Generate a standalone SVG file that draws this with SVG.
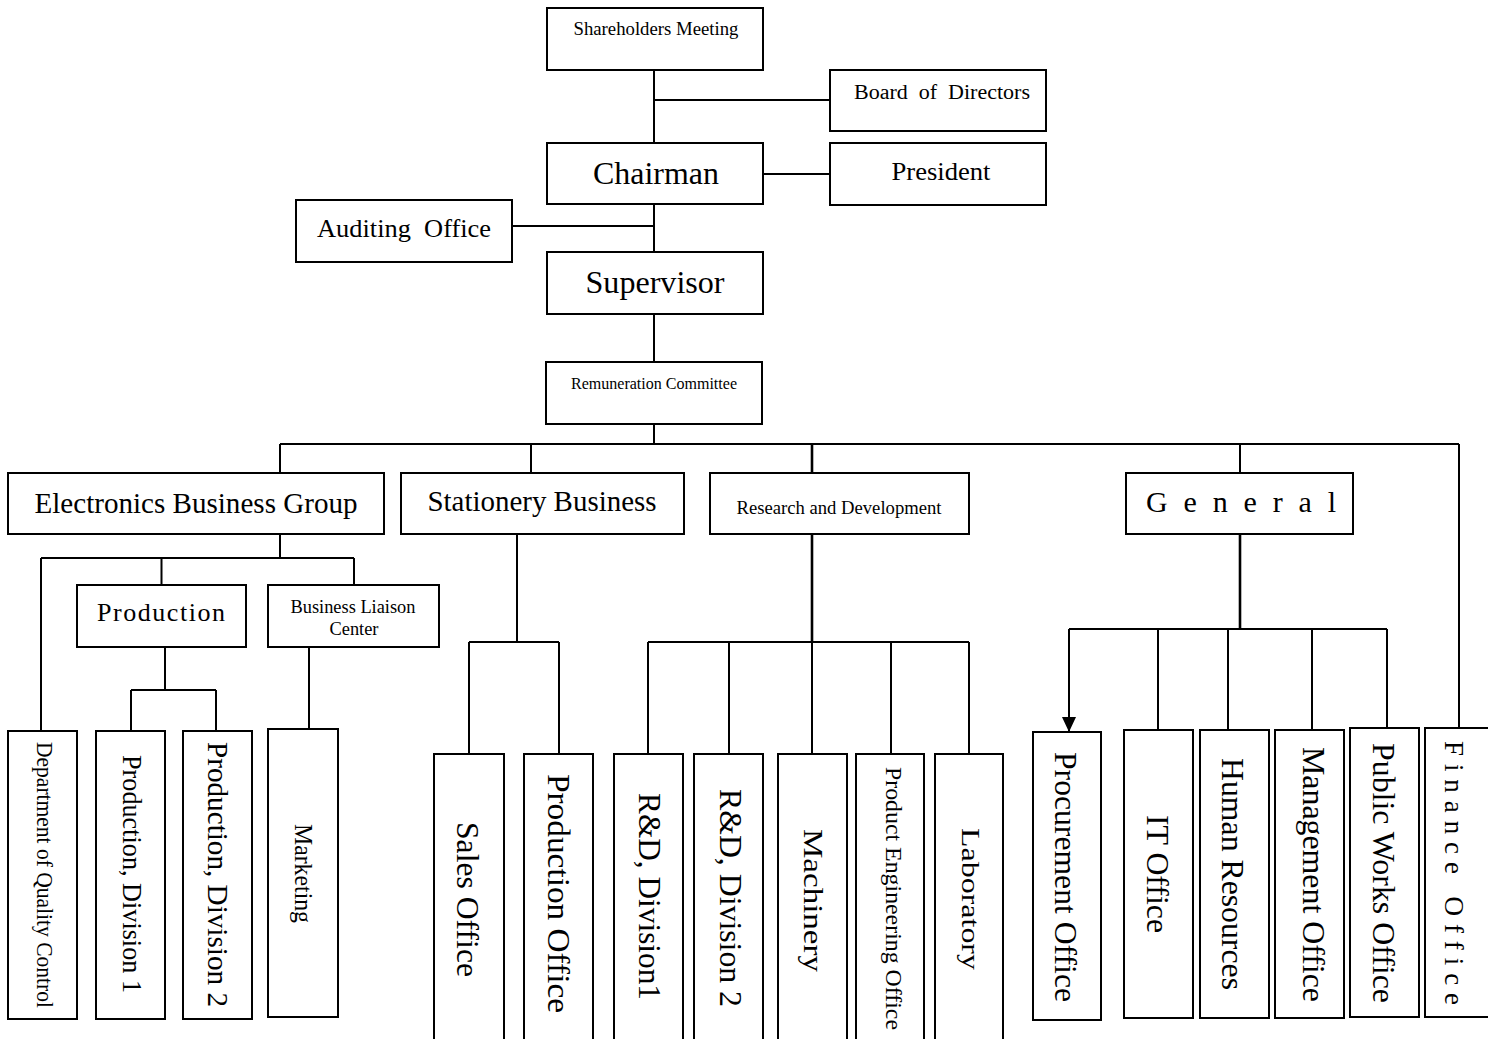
<svg xmlns="http://www.w3.org/2000/svg" width="1488" height="1039" viewBox="0 0 1488 1039">
  <style>
    .box { fill: #fff; stroke: #000; stroke-width: 2; }
    .ln { fill: none; stroke: #000; stroke-width: 2; }
    .thick { stroke-width: 2.6; }
    text { font-family: "Liberation Serif", "Times New Roman", serif; fill: #000; }
    .h { text-anchor: middle; }
  </style>
  <defs>
    <marker id="arrow" viewBox="0 0 15 14" refX="15" refY="7" markerWidth="15" markerHeight="14" markerUnits="userSpaceOnUse" orient="auto">
      <path d="M0,0 L15,7 L0,14 Z" fill="#000"/>
    </marker>
  </defs>
  <rect width="1488" height="1039" fill="#fff"/>

  <!-- connectors -->
  <g id="connectors">
    <!-- governance spine -->
    <path class="ln" d="M654,70 V143 M654,100 H830 M763,174 H830 M654,204 V252 M512,226 H654 M654,314 V362 M654,424 V444"/>
    <!-- main distribution bar -->
    <path class="ln" d="M280,444 H1459 M280,444 V473 M531,444 V473 M1240,444 V473 M1459,444 V728"/>
    <path class="ln thick" d="M812,444 V473"/>
    <!-- electronics branch -->
    <path class="ln" d="M280,534 V558 M41,558 H354 M41,558 V731 M161.5,558 V585 M354,558 V585"/>
    <path class="ln" d="M165,647 V690 M131,690 H216 M131,690 V731 M216,690 V731 M309,647 V729"/>
    <!-- stationery branch -->
    <path class="ln" d="M514,522 H520"/>
    <path class="ln" d="M517,529 V642 M469,642 H559 M469,642 V754 M559,642 V754"/>
    <!-- research branch -->
    <path class="ln thick" d="M812,534 V642"/>
    <path class="ln" d="M648,642 H969 M648,642 V754 M729,642 V754 M812,642 V754 M891,642 V754 M969,642 V754"/>
    <!-- general branch -->
    <path class="ln thick" d="M1240,534 V629"/>
    <path class="ln" d="M1069,629 H1387 M1158,629 V730 M1228,629 V730 M1312,629 V730 M1387,629 V728"/>
    <path class="ln" d="M1069,629 V718"/>
    <path class="ln" d="M1069,629 V732" stroke="none" marker-end="url(#arrow)"/>
  </g>

  <!-- governance -->
  <g id="shareholders-meeting">
    <rect class="box" x="547" y="8" width="216" height="62"/>
    <text class="h" x="656" y="35" font-size="18" textLength="165" lengthAdjust="spacingAndGlyphs">Shareholders Meeting</text>
  </g>
  <g id="board-of-directors">
    <rect class="box" x="830" y="70" width="216" height="61"/>
    <text class="h" x="942" y="99" font-size="20" textLength="176" lengthAdjust="spacingAndGlyphs" xml:space="preserve">Board  of  Directors</text>
  </g>
  <g id="chairman">
    <rect class="box" x="547" y="143" width="216" height="61"/>
    <text class="h" x="656" y="184" font-size="32" textLength="126" lengthAdjust="spacingAndGlyphs">Chairman</text>
  </g>
  <g id="president">
    <rect class="box" x="830" y="143" width="216" height="62"/>
    <text class="h" x="941" y="180" font-size="26" textLength="99" lengthAdjust="spacingAndGlyphs">President</text>
  </g>
  <g id="auditing-office">
    <rect class="box" x="296" y="200" width="216" height="62"/>
    <text class="h" x="404" y="237" font-size="26" textLength="174" lengthAdjust="spacingAndGlyphs" xml:space="preserve">Auditing  Office</text>
  </g>
  <g id="supervisor">
    <rect class="box" x="547" y="252" width="216" height="62"/>
    <text class="h" x="655" y="293" font-size="32" textLength="139" lengthAdjust="spacingAndGlyphs">Supervisor</text>
  </g>
  <g id="remuneration-committee">
    <rect class="box" x="546" y="362" width="216" height="62"/>
    <text class="h" x="654" y="389" font-size="16" textLength="166" lengthAdjust="spacingAndGlyphs">Remuneration Committee</text>
  </g>

  <!-- business groups -->
  <g id="electronics-business-group">
    <rect class="box" x="8" y="473" width="376" height="61"/>
    <text class="h" x="196" y="513" font-size="30" textLength="323" lengthAdjust="spacingAndGlyphs">Electronics Business Group</text>
  </g>
  <g id="stationery-business">
    <rect class="box" x="401" y="473" width="283" height="61"/>
    <text class="h" x="542" y="511" font-size="29" textLength="229" lengthAdjust="spacingAndGlyphs">Stationery Business</text>
  </g>
  <g id="research-and-development">
    <rect class="box" x="710" y="473" width="259" height="61"/>
    <text class="h" x="839" y="514" font-size="18.5" textLength="205" lengthAdjust="spacingAndGlyphs">Research and Development</text>
  </g>
  <g id="general">
    <rect class="box" x="1126" y="473" width="227" height="61"/>
    <text class="h" x="1241" y="512" font-size="30" textLength="190" lengthAdjust="spacing">G e n e r a l</text>
  </g>

  <!-- electronics sub-units -->
  <g id="production">
    <rect class="box" x="77" y="585" width="169" height="62"/>
    <text class="h" x="161" y="621" font-size="26" textLength="128" lengthAdjust="spacing">Production</text>
  </g>
  <g id="business-liaison-center">
    <rect class="box" x="268" y="585" width="171" height="62"/>
    <text class="h" x="353" y="613" font-size="18" textLength="125" lengthAdjust="spacingAndGlyphs">Business Liaison</text>
    <text class="h" x="354" y="635" font-size="18" textLength="49" lengthAdjust="spacingAndGlyphs">Center</text>
  </g>

  <!-- vertical units -->
  <g id="quality-control">
    <rect class="box" x="8" y="731" width="69" height="288"/>
    <text transform="translate(37,742) rotate(90)" font-size="24" textLength="266" lengthAdjust="spacingAndGlyphs">Department of Quality Control</text>
  </g>
  <g id="production-division-1">
    <rect class="box" x="96" y="731" width="69" height="288"/>
    <text transform="translate(123,755) rotate(90)" font-size="28" textLength="238" lengthAdjust="spacingAndGlyphs">Production, Division 1</text>
  </g>
  <g id="production-division-2">
    <rect class="box" x="183" y="731" width="69" height="288"/>
    <text transform="translate(208,742) rotate(90)" font-size="30" textLength="265" lengthAdjust="spacingAndGlyphs">Production, Division 2</text>
  </g>
  <g id="marketing">
    <rect class="box" x="268" y="729" width="70" height="288"/>
    <text transform="translate(295,824) rotate(90)" font-size="25" textLength="99" lengthAdjust="spacingAndGlyphs">Marketing</text>
  </g>
  <g id="sales-office">
    <rect class="box" x="434" y="754" width="70" height="300"/>
    <text transform="translate(457,822) rotate(90)" font-size="31" textLength="155" lengthAdjust="spacingAndGlyphs">Sales Office</text>
  </g>
  <g id="production-office">
    <rect class="box" x="524" y="754" width="69" height="300"/>
    <text transform="translate(548,774) rotate(90)" font-size="32" textLength="239" lengthAdjust="spacingAndGlyphs">Production Office</text>
  </g>
  <g id="rd-division-1">
    <rect class="box" x="614" y="754" width="69" height="300"/>
    <text transform="translate(639,793) rotate(90)" font-size="31" textLength="207" lengthAdjust="spacingAndGlyphs">R&amp;D, Division1</text>
  </g>
  <g id="rd-division-2">
    <rect class="box" x="694" y="754" width="69" height="300"/>
    <text transform="translate(720,789) rotate(90)" font-size="31" textLength="218" lengthAdjust="spacingAndGlyphs">R&amp;D, Division 2</text>
  </g>
  <g id="machinery">
    <rect class="box" x="778" y="754" width="69" height="300"/>
    <text transform="translate(804,829) rotate(90)" font-size="27" textLength="143" lengthAdjust="spacingAndGlyphs">Machinery</text>
  </g>
  <g id="product-engineering-office">
    <rect class="box" x="856" y="754" width="68" height="300"/>
    <text transform="translate(886,767) rotate(90)" font-size="24" textLength="263" lengthAdjust="spacingAndGlyphs">Product Engineering Office</text>
  </g>
  <g id="laboratory">
    <rect class="box" x="935" y="754" width="68" height="300"/>
    <text transform="translate(962,828) rotate(90)" font-size="26" textLength="142" lengthAdjust="spacingAndGlyphs">Laboratory</text>
  </g>
  <g id="procurement-office">
    <rect class="box" x="1033" y="732" width="68" height="288"/>
    <text transform="translate(1055,752) rotate(90)" font-size="31" textLength="250" lengthAdjust="spacingAndGlyphs">Procurement Office</text>
  </g>
  <g id="it-office">
    <rect class="box" x="1124" y="730" width="69" height="288"/>
    <text transform="translate(1147,815) rotate(90)" font-size="31" textLength="118" lengthAdjust="spacingAndGlyphs">IT Office</text>
  </g>
  <g id="human-resources">
    <rect class="box" x="1200" y="730" width="69" height="288"/>
    <text transform="translate(1222,758) rotate(90)" font-size="31" textLength="232" lengthAdjust="spacingAndGlyphs">Human Resources</text>
  </g>
  <g id="management-office">
    <rect class="box" x="1275" y="730" width="69" height="288"/>
    <text transform="translate(1303,747) rotate(90)" font-size="31" textLength="255" lengthAdjust="spacingAndGlyphs">Management Office</text>
  </g>
  <g id="public-works-office">
    <rect class="box" x="1350" y="728" width="69" height="289"/>
    <text transform="translate(1373,743) rotate(90)" font-size="31" textLength="260" lengthAdjust="spacingAndGlyphs">Public Works Office</text>
  </g>
  <g id="finance-office">
    <rect class="box" x="1425" y="728" width="70" height="289"/>
    <text transform="translate(1445,741) rotate(90)" font-size="27" textLength="264" lengthAdjust="spacing" xml:space="preserve">F i n a n c e   O f f i c e</text>
  </g>
</svg>
